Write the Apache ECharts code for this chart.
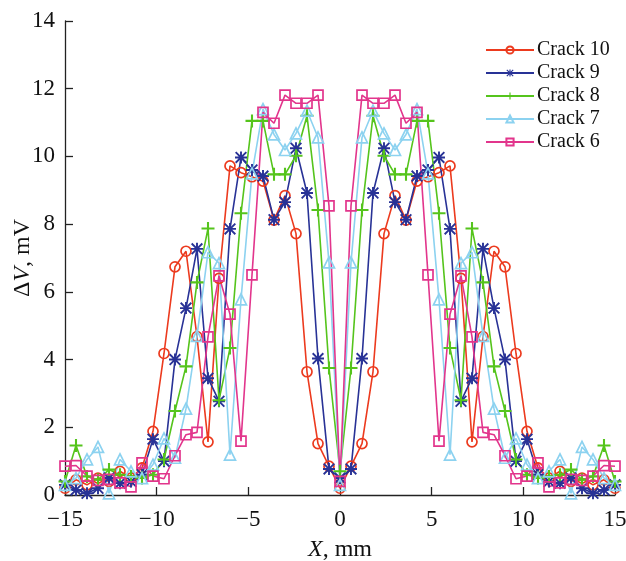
<!DOCTYPE html>
<html>
<head>
<meta charset="utf-8">
<script src="https://cdn.jsdelivr.net/npm/echarts@6/dist/echarts.min.js"></script>
<style>
  html, body { margin: 0; padding: 0; background: #fff; }
  #chart { width: 626px; height: 561px; }
</style>
</head>
<body>
<div id="chart"></div>
<script>
// Probe positions along the specimen, mm
const positions = [
  -15, -14.4, -13.8, -13.2, -12.6, -12, -11.4, -10.8, -10.2, -9.6,
  -9, -8.4, -7.8, -7.2, -6.6, -6, -5.4, -4.8, -4.2, -3.6,
  -3, -2.4, -1.8, -1.2, -0.6, 0, 0.6, 1.2, 1.8, 2.4,
  3, 3.6, 4.2, 4.8, 5.4, 6, 6.6, 7.2, 7.8, 8.4,
  9, 9.6, 10.2, 10.8, 11.4, 12, 12.6, 13.2, 13.8, 14.4, 15
];

// Potential difference ΔV, mV, for each crack
const crack10 = [
  0.2, 0.45, 0.3, 0.5, 0.4, 0.7, 0.5, 0.8, 1.88, 4.18,
  6.74, 7.2, 4.68, 1.57, 6.4, 9.72, 9.52, 9.4, 9.27, 8.12,
  8.84, 7.72, 3.64, 1.52, 0.85, 0.2, 0.85, 1.52, 3.64, 7.72,
  8.84, 8.12, 9.27, 9.4, 9.52, 9.72, 6.4, 1.57, 4.68, 7.2,
  6.74, 4.18, 1.88, 0.8, 0.5, 0.7, 0.4, 0.5, 0.3, 0.45, 0.2
];
const crack9 = [
  0.3, 0.15, 0.05, 0.2, 0.5, 0.35, 0.4, 0.6, 1.65, 1.0,
  4.0, 5.52, 7.27, 3.45, 2.77, 7.86, 9.97, 9.6, 9.42, 8.13,
  8.65, 10.24, 8.92, 4.03, 0.77, 0.5, 0.77, 4.03, 8.92, 10.24,
  8.65, 8.13, 9.42, 9.6, 9.97, 7.86, 2.77, 3.45, 7.27, 5.52,
  4.0, 1.0, 1.65, 0.6, 0.4, 0.35, 0.5, 0.2, 0.05, 0.15, 0.3
];
const crack8 = [
  0.4, 1.46, 0.55, 0.45, 0.75, 0.6, 0.55, 0.5, 0.6, 1.05,
  2.48, 3.8, 6.28, 7.87, 2.8, 4.34, 8.32, 11.05, 11.05, 9.47,
  9.47, 10.02, 11.2, 8.42, 3.75, 0.7, 3.75, 8.42, 11.2, 10.02,
  9.47, 9.47, 11.05, 11.05, 8.32, 4.34, 2.8, 7.87, 6.28, 3.8,
  2.48, 1.05, 0.6, 0.5, 0.55, 0.6, 0.75, 0.45, 0.55, 1.46, 0.4
];
const crack7 = [
  0.3, 0.5, 1.05, 1.42, 0.05, 1.05, 0.7, 0.5, 0.9, 1.67,
  1.1, 2.55, 4.7, 7.17, 6.85, 1.19, 5.78, 9.5, 11.4, 10.65,
  10.19, 10.68, 11.35, 10.56, 6.87, 0.3, 6.87, 10.56, 11.35, 10.68,
  10.19, 10.65, 11.4, 9.5, 5.78, 1.19, 6.85, 7.17, 4.7, 2.55,
  1.1, 1.67, 0.9, 0.5, 0.7, 1.05, 0.05, 1.42, 1.05, 0.5, 0.3
];
const crack6 = [
  0.85, 0.87, 0.56, 0.43, 0.46, 0.36, 0.24, 0.95, 0.56, 0.48,
  1.16, 1.78, 1.85, 4.67, 6.47, 5.34, 1.59, 6.5, 11.3, 10.98,
  11.81, 11.57, 11.57, 11.81, 8.54, 0.4, 8.54, 11.81, 11.57, 11.57,
  11.81, 10.98, 11.3, 6.5, 1.59, 5.34, 6.47, 4.67, 1.85, 1.78,
  1.16, 0.48, 0.56, 0.95, 0.24, 0.36, 0.46, 0.43, 0.56, 0.87, 0.85
];

const seriesNames = ['Crack 10', 'Crack 9', 'Crack 8', 'Crack 7', 'Crack 6'];
const xTicks = [-15, -10, -5, 0, 5, 10, 15];
const yTicks = [0, 2, 4, 6, 8, 10, 12, 14];

// Marker shapes
const STAR = 'path://M42,0L58,0L58,100L42,100Z M0,42L100,42L100,58L0,58Z ' +
  'M11,0L100,89L89,100L0,11Z M89,0L100,11L11,100L0,89Z';
const PLUS = 'path://M42,0L58,0L58,42L100,42L100,58L58,58L58,100L42,100L42,58L0,58L0,42L42,42Z';

const styles = [
  { color: '#ec3a1e', symbol: 'circle', size: 10, hollow: true },
  { color: '#283296', symbol: STAR, size: 12, hollow: false },
  { color: '#55c41c', symbol: PLUS, size: 13, hollow: false },
  { color: '#8cd2f0', symbol: 'triangle', size: 11, hollow: true },
  { color: '#e2358c', symbol: 'rect', size: 10, hollow: true }
];
const values = [crack10, crack9, crack8, crack7, crack6];

const FONT = '"Liberation Serif", "Times New Roman", serif';

const series = seriesNames.map((name, k) => {
  const s = styles[k];
  return {
    name: name,
    type: 'line',
    data: positions.map((x, i) => [x, values[k][i]]),
    symbol: s.symbol,
    symbolSize: s.size,
    showAllSymbol: true,
    lineStyle: { color: s.color, width: 1.6 },
    itemStyle: s.hollow
      ? { color: 'rgba(255,255,255,0)', borderColor: s.color, borderWidth: 1.7 }
      : { color: s.color, borderWidth: 0 },
    emphasis: { disabled: true },
    animation: false
  };
});

const chart = echarts.init(document.getElementById('chart'), null, { renderer: 'canvas' });
chart.setOption({
  backgroundColor: '#fff',
  animation: false,
  textStyle: { fontFamily: FONT, color: '#111' },
  grid: {
    left: 65, right: 11, top: 21, bottom: 66,
    containLabel: false,
    outerBoundsMode: 'none'
  },
  legend: {
    orient: 'vertical',
    left: 480,
    top: 35,
    itemWidth: 48,
    itemHeight: 9,
    itemGap: 3,
    textStyle: { fontFamily: FONT, fontSize: 20, color: '#111', padding: [0, 0, 0, -2] },
    data: seriesNames
  },
  xAxis: {
    type: 'value',
    min: xTicks[0],
    max: xTicks[xTicks.length - 1],
    interval: 5,
    name: '{i|X}, mm',
    nameLocation: 'middle',
    nameGap: 43,
    nameMoveOverlap: false,
    nameTextStyle: {
      fontFamily: FONT, fontSize: 24, color: '#111',
      rich: { i: { fontFamily: FONT, fontSize: 24, fontStyle: 'italic', color: '#111' } }
    },
    axisLine: { onZero: false, lineStyle: { color: '#222', width: 1.3 } },
    axisTick: { inside: true, length: 8, lineStyle: { color: '#222', width: 1.3 } },
    axisLabel: {
      fontFamily: FONT, fontSize: 23, color: '#111', margin: 13,
      formatter: v => (v < 0 ? '\u2212' + Math.abs(v) : String(v))
    },
    splitLine: { show: false }
  },
  yAxis: {
    type: 'value',
    min: yTicks[0],
    max: yTicks[yTicks.length - 1],
    interval: 2,
    name: '\u0394{i|V}, mV',
    nameLocation: 'middle',
    nameGap: 30,
    nameRotate: 90,
    nameMoveOverlap: false,
    nameTextStyle: {
      fontFamily: FONT, fontSize: 24, color: '#111',
      rich: { i: { fontFamily: FONT, fontSize: 24, fontStyle: 'italic', color: '#111' } }
    },
    axisLine: { show: true, onZero: false, lineStyle: { color: '#222', width: 1.3 } },
    axisTick: { show: true, inside: true, length: 8, lineStyle: { color: '#222', width: 1.3 } },
    axisLabel: { fontFamily: FONT, fontSize: 23, color: '#111', margin: 10 },
    splitLine: { show: false }
  },
  series: series
});
</script>
</body>
</html>
